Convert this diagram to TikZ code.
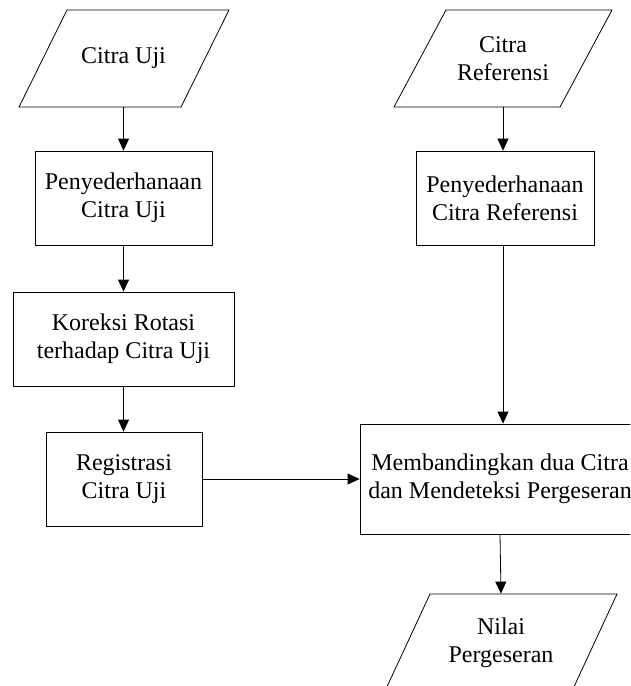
\documentclass[tikz,border=0pt]{standalone}
\usepackage{fontspec}
\setmainfont{Liberation Serif}
\usetikzlibrary{arrows.meta}
\begin{document}
\begin{tikzpicture}[x=1pt,y=-1pt,
  line width=0.8pt,
  every node/.style={font=\fontsize{24}{28}\selectfont, align=center, inner sep=0pt},
  procbox/.style={draw, rectangle, minimum height=94pt},
  iobox/.style={rectangle, minimum height=97pt},
  arr/.style={-{Triangle[length=12pt,width=11pt]}}
]
\useasboundingbox (0,0) rectangle (630,686);
\clip (0,0) rectangle (630,686);
% inputs / output (parallelograms)
\node[iobox, minimum width=162pt] (cu) at (123.5,58.5) {Citra Uji};
\draw (19,107) -- (181,107) -- (229,10) -- (67,10) -- cycle;
\node[iobox, minimum width=162pt] (cr) at (503,58.5) {Citra\\Referensi};
\draw (394,107) -- (560,107) -- (612,10) -- (446,10) -- cycle;
% process boxes
\node[procbox, minimum width=177pt] (p1) at (123.5,198) {Penyederhanaan\\Citra Uji};
\node[procbox, minimum width=221pt] (k) at (123.5,339) {Koreksi Rotasi\\terhadap Citra Uji};
\node[procbox, minimum width=156pt] (r) at (124,479) {Registrasi\\Citra Uji};
\node[procbox, minimum width=178pt] (pr) at (505,198) {Penyederhanaan\\Citra Referensi};
\node[procbox, minimum width=280pt, minimum height=110pt] (m) at (500,479) {Membandingkan dua Citra\\dan Mendeteksi Pergeseran};
\node[iobox, minimum width=187pt] (n) at (501,642.5) {Nilai\\Pergeseran};
\draw (385,691) -- (572,691) -- (617,594) -- (430,594) -- cycle;
% connectors
\draw[arr] (cu.south) -- (cu.south |- p1.north);
\draw[arr] (p1.south) -- (k.north);
\draw[arr] (k.south) -- (k.south |- r.north);
\draw[arr] (r.east) -- (m.west);
\draw[arr] (cr.south) -- (cr.south |- pr.north);
\draw[arr] (cr.south |- pr.south) -- (cr.south |- m.north);
\draw[arr] (m.south) -- (n.north);
\end{tikzpicture}
\end{document}
